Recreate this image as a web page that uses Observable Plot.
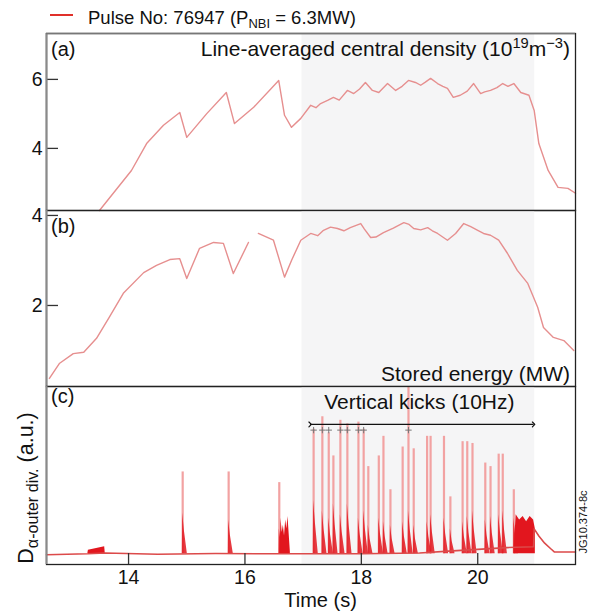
<!DOCTYPE html>
<html>
<head>
<meta charset="utf-8">
<script src="https://cdn.jsdelivr.net/npm/d3@7"></script>
<script src="https://cdn.jsdelivr.net/npm/@observablehq/plot@0.6"></script>
<style>
  body { margin: 0; background: #fff; font-family: "Liberation Sans", Arial, Helvetica, sans-serif; }
  #wrap { position: relative; width: 593px; height: 616px; overflow: hidden; background: #fff; }
  #wrap svg { position: absolute; left: 0; overflow: visible; }
  #legend-line { position: absolute; left: 50px; top: 14px; width: 23px; height: 2px; background: #e0302a; }
  #legend-text { position: absolute; left: 88px; top: 6px; font-size: 18.5px; line-height: 24px; color: #111; white-space: nowrap; }
  #legend-text .sub { font-size: 0.7em; position: relative; top: 0.3em; }
</style>
</head>
<body>
<div id="wrap">
  <div id="legend-line"></div>
  <div id="legend-text">Pulse No: 76947 (P<span class="sub">NBI</span> = 6.3MW)</div>
</div>
<script>
// ---------------- data ----------------
const xDomain = [12.59, 21.68];
const xTicks = [14, 16, 18, 20];
const shadeStart = 16.98;
const shadeEnd = 20.98;

// (a) line-averaged central density
const densDomain = [2.2, 7.33];
const densTicks = [4, 6];
const densT = [13.50, 14.05, 14.31, 14.60, 14.88, 15.00, 15.34, 15.68, 15.82, 16.15, 16.58, 16.68, 16.80, 16.96, 17.13, 17.22, 17.30, 17.42, 17.52, 17.62, 17.76, 17.87, 17.97, 18.07, 18.19, 18.30, 18.45, 18.59, 18.70, 18.81, 18.93, 19.02, 19.10, 19.19, 19.31, 19.40, 19.48, 19.58, 19.70, 19.82, 19.93, 20.05, 20.12, 20.22, 20.33, 20.43, 20.52, 20.62, 20.74, 20.88, 20.97, 21.05, 21.21, 21.38, 21.55, 21.68];
const densV = [2.20, 3.36, 4.14, 4.67, 5.04, 4.32, 5.00, 5.62, 4.72, 5.19, 5.97, 4.96, 4.61, 4.87, 5.25, 5.18, 5.30, 5.39, 5.48, 5.40, 5.68, 5.59, 5.72, 5.91, 5.68, 5.62, 5.88, 5.68, 5.80, 5.97, 5.91, 5.83, 5.92, 6.03, 5.88, 5.80, 5.74, 5.48, 5.54, 5.66, 5.88, 5.59, 5.64, 5.68, 5.76, 5.88, 5.80, 5.88, 5.62, 5.54, 5.10, 4.14, 3.36, 2.87, 2.84, 2.70];

// (b) stored energy
const energyDomain = [0.2, 4.11];
const energyTicks = [2, 4];
const energyT = [12.64, 12.81, 13.05, 13.23, 13.45, 13.67, 13.91, 14.26, 14.48, 14.71, 14.88, 15.00, 15.22, 15.46, 15.63, 15.80, 16.06, 16.12, 16.23, 16.49, 16.68, 16.80, 16.96, 17.13, 17.25, 17.35, 17.47, 17.59, 17.70, 17.81, 17.99, 18.05, 18.16, 18.25, 18.38, 18.55, 18.73, 18.82, 18.90, 19.02, 19.14, 19.22, 19.31, 19.48, 19.62, 19.76, 19.88, 20.00, 20.10, 20.22, 20.36, 20.51, 20.68, 20.86, 21.03, 21.13, 21.30, 21.48, 21.65];
const energyV = [0.38, 0.71, 0.93, 0.96, 1.27, 1.74, 2.27, 2.73, 2.89, 3.02, 3.04, 2.60, 3.27, 3.40, 3.38, 2.71, 3.40, null, 3.60, 3.45, 2.63, 3.00, 3.45, 3.60, 3.55, 3.67, 3.74, 3.71, 3.66, 3.73, 3.82, 3.70, 3.51, 3.52, 3.62, 3.72, 3.84, 3.80, 3.71, 3.68, 3.73, 3.66, 3.60, 3.45, 3.60, 3.82, 3.75, 3.67, 3.60, 3.56, 3.45, 3.16, 2.78, 2.49, 1.96, 1.51, 1.29, 1.22, 1.00];

// (c) D-alpha outer divertor (a.u.)
const dalphaDomain = [0, 1];
const cFloor = 0.06;
const baseT = [12.59, 13.30, 13.60, 14.50, 15.50, 16.50, 17.00, 18.00, 19.00, 19.50, 20.00, 20.50, 20.96, 20.97, 21.05, 21.15, 21.25, 21.32, 21.68];
const baseV = [0.055, 0.060, 0.065, 0.058, 0.062, 0.060, 0.060, 0.060, 0.065, 0.075, 0.085, 0.095, 0.100, 0.200, 0.160, 0.120, 0.090, 0.070, 0.070];
const spikeT    = [14.93, 15.72, 16.59, 17.18, 17.33, 17.44, 17.52, 17.64, 17.76, 17.95, 18.04, 18.12, 18.30, 18.38, 18.50, 18.71, 18.81, 18.90, 19.13, 19.19, 19.42, 19.53, 19.74, 19.82, 19.91, 20.13, 20.22, 20.36, 20.43, 20.62];
const spikePeak = [0.52, 0.52, 0.46, 0.76, 0.83, 0.74, 0.61, 0.81, 0.79, 0.80, 0.76, 0.55, 0.61, 0.72, 0.42, 0.66, 1.00, 0.65, 0.72, 0.72, 0.72, 0.38, 0.69, 0.69, 0.68, 0.57, 0.55, 0.62, 0.62, 0.42];
const spikeBody = [0.29, 0.25, 0.20, 0.36, 0.30, 0.26, 0.34, 0.28, 0.34, 0.26, 0.30, 0.22, 0.26, 0.24, 0.22, 0.24, 0.30, 0.22, 0.24, 0.28, 0.26, 0.20, 0.24, 0.27, 0.30, 0.25, 0.27, 0.28, 0.30, 0.26];
const burstId = [1, 1, 1, 1, 2, 2, 2, 2, 2, 2, 2, 2, 2, 3, 3, 3, 3, 3, 3, 3, 3];
const burstT  = [13.30, 13.31, 13.59, 13.60, 16.60, 16.62, 16.64, 16.66, 16.68, 16.70, 16.72, 16.74, 16.78, 20.63, 20.66, 20.72, 20.78, 20.84, 20.90, 20.96, 20.99];
const burstV  = [0.06, 0.08, 0.10, 0.06, 0.06, 0.26, 0.18, 0.22, 0.16, 0.25, 0.20, 0.27, 0.07, 0.10, 0.28, 0.25, 0.27, 0.24, 0.27, 0.25, 0.20];
const kickStart = 17.12;
const kickEnd = 20.96;
const kickLevel = 0.787;
const kickMarkT = [17.18, 17.33, 17.44, 17.64, 17.76, 17.95, 18.04, 18.81];
const kickMarkLevel = 0.755;

// ---------------- styles ----------------
const FONT = '"Liberation Sans", Arial, Helvetica, sans-serif';
const W = 593, ML = 46, MR = 18;
const curveColor = "#e68f8f";
const shadeColor = "#f5f5f6";
const spikeColor = "#f2a2a2";
const bodyColor = "#e2161e";
const tickPx = 12;
const labelSize = 21;
const tickSize = 19.5;

const dens = densT.map((t, i) => ({t, v: densV[i]}));
const energy = energyT.map((t, i) => ({t, v: energyV[i]}));
const base = baseT.map((t, i) => ({t, v: baseV[i]}));
const spikes = spikeT.map((t, i) => ({t, peak: spikePeak[i], body: spikeBody[i]}));
const bodies = spikes.flatMap((s, i) => [
  {id: i, t: s.t - 0.005, v: cFloor},
  {id: i, t: s.t, v: s.body},
  {id: i, t: s.t + 0.03, v: s.body * 0.65},
  {id: i, t: s.t + 0.08, v: cFloor}
]);
const bursts = burstT.map((t, i) => ({id: burstId[i], t, v: burstV[i]}));
const shade = [{x1: shadeStart, x2: shadeEnd}];
const kick = [{x1: kickStart, x2: kickEnd, y: kickLevel}];
const kickMarks = kickMarkT.map(t => ({t, v: kickMarkLevel}));

const pxPerX = (W - ML - MR) / (xDomain[1] - xDomain[0]);
const tickLenX = tickPx / pxPerX;
const fmt = d => String(d);

const baseStyle = {overflow: "visible", background: "transparent", fontFamily: FONT, fontSize: tickSize + "px", color: "#111"};

function frameMarks() {
  return [
    Plot.frame({stroke: "#222", strokeWidth: 1.3}),
    Plot.ruleX([xDomain[0]], {stroke: "#8a8a8a", strokeWidth: 2})
  ];
}

// (a)
const hA = 177;
const plotA = Plot.plot({
  width: W, height: hA, marginTop: 0, marginBottom: 0, marginLeft: ML, marginRight: MR,
  style: baseStyle,
  x: {domain: xDomain, axis: null},
  y: {domain: densDomain},
  marks: [
    Plot.rect(shade, {x1: "x1", x2: "x2", fill: shadeColor}),
    Plot.line(dens, {x: "t", y: "v", stroke: curveColor, strokeWidth: 1.4}),
    Plot.axisY({ticks: densTicks, tickFormat: fmt, tickSize: 0, tickPadding: 4, fontSize: tickSize, label: null}),
    Plot.ruleY(densTicks, {x1: xDomain[0], x2: xDomain[0] + tickLenX, stroke: "#333", strokeWidth: 1.3}),
    ...frameMarks(),
    Plot.ruleY([densDomain[1]], {stroke: "#777", strokeWidth: 1.5})
  ]
});

// (b)
const hB = 176;
const plotB = Plot.plot({
  width: W, height: hB, marginTop: 0, marginBottom: 0, marginLeft: ML, marginRight: MR,
  style: baseStyle,
  x: {domain: xDomain, axis: null},
  y: {domain: energyDomain},
  marks: [
    Plot.rect(shade, {x1: "x1", x2: "x2", fill: shadeColor}),
    Plot.line(energy, {x: "t", y: "v", stroke: curveColor, strokeWidth: 1.4}),
    Plot.axisY({ticks: energyTicks, tickFormat: fmt, tickSize: 0, tickPadding: 4, fontSize: tickSize, label: null}),
    Plot.ruleY(energyTicks, {x1: xDomain[0], x2: xDomain[0] + tickLenX, stroke: "#333", strokeWidth: 1.3}),
    ...frameMarks()
  ]
});

// (c)
const hCframe = 178, mbC = 52;
const tickLenY = 11 / hCframe * (dalphaDomain[1] - dalphaDomain[0]);
const plotC = Plot.plot({
  width: W, height: hCframe + mbC, marginTop: 0, marginBottom: mbC, marginLeft: ML, marginRight: MR,
  style: baseStyle,
  x: {domain: xDomain},
  y: {domain: dalphaDomain, axis: null},
  marks: [
    Plot.rect(shade, {x1: "x1", x2: "x2", fill: shadeColor}),
    Plot.ruleX(spikes, {x: "t", y1: cFloor, y2: "peak", stroke: spikeColor, strokeWidth: 2.2}),
    Plot.areaY(bodies, {x: "t", y1: cFloor, y2: "v", z: "id", fill: bodyColor, fillOpacity: 0.85, curve: "linear"}),
    Plot.areaY(bursts, {x: "t", y1: cFloor, y2: "v", z: "id", fill: bodyColor, curve: "linear"}),
    Plot.line(base, {x: "t", y: "v", stroke: "#dc4a4a", strokeWidth: 1.6}),
    Plot.link(kick, {x1: "x1", x2: "x2", y1: "y", y2: "y", stroke: "#111", strokeWidth: 1.2, markerStart: "arrow", markerEnd: "arrow"}),
    Plot.dot(kickMarks, {x: "t", y: "v", symbol: "plus", r: 2.2, stroke: "#777", strokeWidth: 1}),
    Plot.axisX({ticks: xTicks, tickFormat: fmt, tickSize: 0, tickPadding: 6, fontSize: tickSize, label: null}),
    Plot.ruleX(xTicks, {y1: dalphaDomain[0], y2: dalphaDomain[0] + tickLenY, stroke: "#333", strokeWidth: 1.3}),
    ...frameMarks()
  ]
});

const wrap = document.getElementById("wrap");
plotA.style.top = "33px";
plotB.style.top = "210px";
plotC.style.top = "386px";
wrap.append(plotA, plotB, plotC);

// rich text helper (real SVG text with tspans for sub/superscripts)
function richText(svg, x, y, parts, {anchor = "start", size = labelSize, rotate = 0, fill = "#111", small = 0.7} = {}) {
  const t = d3.select(svg).append("text")
    .attr("transform", `translate(${x},${y})` + (rotate ? ` rotate(${rotate})` : ""))
    .attr("text-anchor", anchor)
    .attr("font-size", size)
    .attr("font-family", FONT)
    .attr("fill", fill);
  let shift = 0;
  for (const [s, kind] of parts) {
    const target = kind === "sup" ? -0.4 * size : kind === "sub" ? 0.25 * size : 0;
    const ts = t.append("tspan").text(s).attr("dy", target - shift);
    if (kind) ts.attr("font-size", size * small);
    shift = target;
  }
  return t;
}

const xRight = W - MR - 5;
richText(plotA, ML + 5, 23, [["(a)"]], {size: 20});
richText(plotA, xRight, 23, [["Line-averaged central density (10"], ["19", "sup"], ["m"], ["\u22123", "sup"], [")"]], {anchor: "end"});
richText(plotB, ML + 5, 23, [["(b)"]], {size: 20});
richText(plotB, xRight, 171, [["Stored energy (MW)"]], {anchor: "end"});
richText(plotC, ML + 5, 17, [["(c)"]], {size: 20});
const sx = plotC.scale("x");
richText(plotC, sx.apply((kickStart + kickEnd) / 2) - 2, 23, [["Vertical kicks (10Hz)"]], {anchor: "middle"});
richText(plotC, (ML + W - MR) / 2 + 10, 221, [["Time (s)"]], {anchor: "middle", size: 20});
richText(plotC, 33, 102, [["D"], ["\u03b1-outer div.", "sub"], [" (a.u.)"]], {anchor: "middle", rotate: -90, size: 21.5, small: 0.75});
richText(plotC, 587, 136, [["JG10.374-8c"]], {anchor: "middle", rotate: -90, size: 11});
</script>
</body>
</html>
